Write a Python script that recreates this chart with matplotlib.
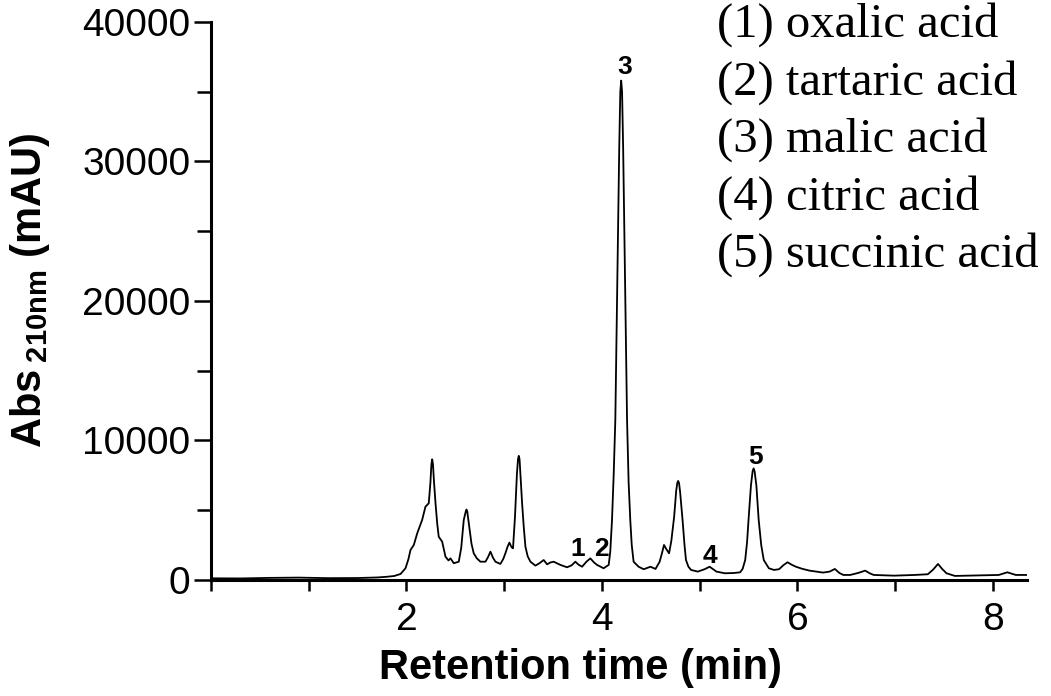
import matplotlib
matplotlib.use("Agg")
import matplotlib.pyplot as plt
from matplotlib.ticker import MultipleLocator, FixedLocator, FixedFormatter

plt.rcParams["font.family"] = ["Liberation Sans", "DejaVu Sans"]
plt.rcParams["mathtext.fontset"] = "custom"
plt.rcParams["mathtext.rm"] = "Liberation Sans:bold"

# chromatogram trace (retention time in min, absorbance in mAU)
time_min = [
    0.00, 0.30, 0.60, 0.90, 1.20, 1.50, 1.70, 1.80, 1.874, 1.939, 1.99, 2.02,
    2.041, 2.075, 2.11, 2.16, 2.194, 2.228, 2.245, 2.255, 2.263, 2.271, 2.28,
    2.297, 2.315, 2.33, 2.365, 2.399, 2.43, 2.45, 2.484, 2.535, 2.56, 2.586,
    2.606, 2.614, 2.622, 2.635, 2.647, 2.665, 2.688, 2.72, 2.757, 2.808, 2.835,
    2.859, 2.885, 2.91, 2.961, 2.99, 3.012, 3.035, 3.053, 3.075, 3.09, 3.11,
    3.13, 3.141, 3.149, 3.157, 3.168, 3.183, 3.20, 3.217, 3.24, 3.268, 3.319,
    3.36, 3.404, 3.439, 3.47, 3.506, 3.575, 3.643, 3.69, 3.728, 3.76, 3.797,
    3.84, 3.881, 3.92, 3.95, 4.017, 4.069, 4.085, 4.103, 4.12, 4.137, 4.157,
    4.177, 4.188, 4.197, 4.206, 4.217, 4.237, 4.257, 4.273, 4.29, 4.305, 4.324,
    4.375, 4.427, 4.497, 4.548, 4.59, 4.614, 4.635, 4.66, 4.687, 4.71, 4.739,
    4.76, 4.771, 4.78, 4.789, 4.80, 4.825, 4.845, 4.86, 4.885, 4.912, 4.981,
    5.05, 5.102, 5.172, 5.258, 5.35, 5.414, 5.44, 5.466, 5.485, 5.50, 5.525,
    5.542, 5.552, 5.562, 5.58, 5.604, 5.63, 5.656, 5.708, 5.76, 5.812, 5.855,
    5.899, 5.94, 5.985, 6.05, 6.124, 6.263, 6.33, 6.383, 6.43, 6.47, 6.54,
    6.62, 6.694, 6.74, 6.781, 6.989, 7.2, 7.335, 7.39, 7.439, 7.48, 7.526,
    7.612, 7.8, 8.061, 8.148, 8.235, 8.37,
]
abs_mau = [
    120, 110, 150, 170, 130, 140, 180, 230, 285, 430, 840, 1500,
    2150, 2510, 3350, 4300, 5250, 5500, 7000, 8300, 8650, 8300, 7200,
    5500, 4000, 3100, 2750, 1670, 1400, 1550, 1200, 1310, 2300, 4300,
    4900, 5050, 4900, 4200, 3580, 2600, 1910, 1550, 1310, 1310, 1650,
    2030, 1600, 1310, 1150, 1500, 1910, 2400, 2680, 2350, 2270, 4500,
    7600, 8650, 8900, 8650, 7300, 5500, 3800, 2390, 1700, 1310, 1030,
    1200, 1430, 1120, 1250, 1310, 1080, 910, 1050, 1310, 1100, 950,
    1300, 1550, 1250, 1080, 840, 1080, 2000, 4300, 7500, 11470, 21000,
    31000, 35000, 35800, 35000, 31000, 21000, 11470, 7000, 4300, 2500, 1310,
    950, 770, 950, 790, 1300, 1910, 2510, 2200, 1910, 2800, 4540,
    6400, 6950, 7100, 6950, 6300, 4300, 2500, 1430, 950, 720, 600,
    770, 950, 600, 480, 500, 550, 800, 1430, 2700, 4300, 6800,
    7800, 8000, 7800, 6800, 4300, 2500, 1430, 840, 720, 770, 1050,
    1270, 1100, 950, 800, 670, 530, 600, 790, 500, 360, 360,
    500, 670, 480, 360, 310, 360, 410, 750, 1150, 800, 480,
    290, 320, 360, 550, 360, 360,
]

# peak numbers and where they sit
peak_labels = ["1", "2", "3", "4", "5"]
peak_label_t = [3.75, 3.995, 4.23, 5.107, 5.568]
peak_label_y = [2250, 2250, 36800, 1750, 8850]

legend_lines = ["(1) oxalic acid", "(2) tartaric acid", "(3) malic acid",
                "(4) citric acid", "(5) succinic acid"]

x_ticks = [0, 1, 2, 3, 4, 5, 6, 7, 8]
x_tick_labels = ["", "", "2", "", "4", "", "6", "", "8"]


def main():
    fig = plt.figure(figsize=(10.51, 6.96), dpi=100)
    ax = fig.add_axes([0.2008, 0.1667, 0.7764, 0.8017])

    ax.plot(time_min, abs_mau, color="black", lw=1.3, solid_joinstyle="round")

    ax.set_xlim(0, 8.35)
    ax.set_ylim(0, 40000)

    for side in ("top", "right"):
        ax.spines[side].set_visible(False)
    for side in ("left", "bottom"):
        ax.spines[side].set_linewidth(2.2)

    ax.xaxis.set_major_locator(FixedLocator(x_ticks))
    ax.xaxis.set_major_formatter(FixedFormatter(x_tick_labels))
    ax.yaxis.set_major_locator(MultipleLocator(10000))
    ax.yaxis.set_minor_locator(MultipleLocator(5000))
    ax.tick_params(axis="x", which="major", direction="out", length=8, width=1.8,
                   labelsize=28, pad=8)
    ax.tick_params(axis="y", which="major", direction="out", length=12, width=1.8,
                   labelsize=28, pad=3)
    ax.tick_params(axis="y", which="minor", direction="out", length=10, width=1.8)

    ax.set_xlabel("Retention time (min)", fontsize=30, fontweight="bold", va="center")
    ax.xaxis.set_label_coords(0.453, -0.157)
    ax.set_ylabel(r"Abs$\,_{\mathrm{210nm}}$ (mAU)", fontsize=30, fontweight="bold",
                  va="center")
    ax.yaxis.set_label_coords(-0.222, 0.52)

    for lab, t, y in zip(peak_labels, peak_label_t, peak_label_y):
        ax.text(t, y, lab, fontsize=19, fontweight="bold", ha="center", va="center")

    # compound list in the top right corner
    for i, line in enumerate(legend_lines):
        ax.text(0.620, (580 - (25 + 57.5 * i)) / 558, line, transform=ax.transAxes,
                fontsize=35, family=["Liberation Serif", "DejaVu Serif"],
                ha="left", va="center")

    fig.savefig("out.png", dpi=100)
    plt.close(fig)


if __name__ == "__main__":
    main()
